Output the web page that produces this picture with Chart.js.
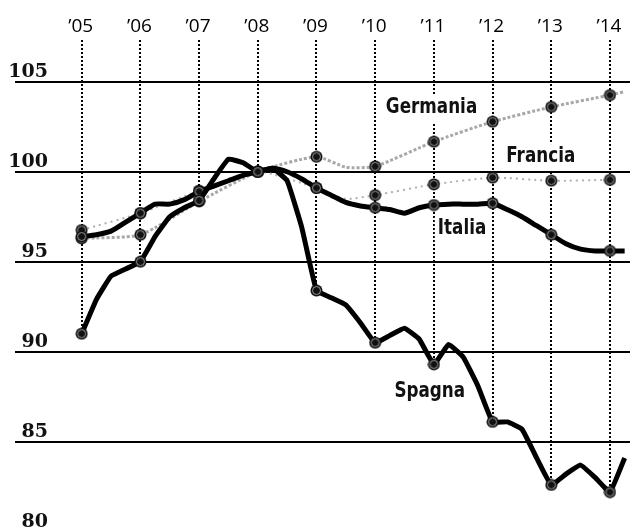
<!DOCTYPE html>
<html>
<head>
<meta charset="utf-8">
<script src="https://cdn.jsdelivr.net/npm/chart.js@4.4.1/dist/chart.umd.min.js"></script>
<style>
  html, body { margin: 0; padding: 0; background: #fff; overflow: hidden; }
  canvas { display: block; }
</style>
</head>
<body>
<canvas id="grafico" width="630" height="529" style="width:630px;height:529px"></canvas>
<script>
// anni con la linea tratteggiata verticale
const anni = [2005, 2006, 2007, 2008, 2009, 2010, 2011, 2012, 2013, 2014];
const anniLabel = ["\u201905", "\u201906", "\u201907", "\u201908", "\u201909", "\u201910", "\u201911", "\u201912", "\u201913", "\u201914"];
// trimestri dal 2005 al 2014 (II trim.)
const trimestri = Array.from({ length: 38 }, (_, i) => 2005 + i / 4);

const spagna = [
  91.0, 92.9, 94.2, 94.6,
  95.0, 96.4, 97.5, 98.0,
  98.4, 99.6, 100.7, 100.5,
  100.0, 100.2, 99.5, 96.9,
  93.4, 93.0, 92.6, 91.6,
  90.5, 90.9, 91.3, 90.7,
  89.3, 90.4, 89.7, 88.1,
  86.1, 86.1, 85.7, 84.1,
  82.6, 83.2, 83.7, 83.0,
  82.2, 84.1,
];
const italia = [
  96.4, 96.5, 96.7, 97.2,
  97.7, 98.2, 98.2, 98.45,
  98.9, 99.2, 99.5, 99.8,
  100.0, 100.2, 100.0, 99.6,
  99.1, 98.7, 98.3, 98.1,
  98.0, 97.9, 97.7, 98.0,
  98.15, 98.2, 98.2, 98.2,
  98.25, 97.9, 97.5, 97.0,
  96.5, 96.0, 95.7, 95.6,
  95.6, 95.6,
];
const germaniaX = [2005, 2006, 2007, 2008, 2009, 2009.5, 2010, 2011, 2012, 2013, 2014, 2014.25];
const germania = [96.3, 96.5, 98.35, 100, 100.83, 100.25, 100.3, 101.67, 102.78, 103.6, 104.26, 104.45];
const franciaX = [2005, 2006, 2007, 2008, 2009, 2009.5, 2010, 2011, 2012, 2013, 2014];
const francia = [96.76, 97.7, 98.95, 100, 99.1, 98.5, 98.7, 99.3, 99.67, 99.5, 99.55];

const yTicks = [80, 85, 90, 95, 100, 105];
const gridTicks = [85, 90, 95, 100, 105];

// etichette dei paesi (coordinate in unità del grafico)
const etichette = [
  { testo: "Germania", x: 2010.96, y: 103.54 },
  { testo: "Francia", x: 2012.82, y: 100.87 },
  { testo: "Italia", x: 2011.48, y: 96.82 },
  { testo: "Spagna", x: 2010.93, y: 87.76 },
];

function pts(xs, ys) { return ys.map((v, i) => ({ x: xs[i], y: v })); }

function makeDot() {
  const c = document.createElement("canvas");
  c.width = 13; c.height = 13;
  const g = c.getContext("2d");
  g.fillStyle = "#111";
  g.beginPath(); g.arc(6.5, 6.5, 6, 0, Math.PI * 2); g.fill();
  g.strokeStyle = "#9a9a9a"; g.lineWidth = 1;
  g.beginPath(); g.arc(6.5, 6.5, 4, 0, Math.PI * 2); g.stroke();
  return c;
}
const dot = makeDot();
const pointAt = (ctx) => (ctx.raw && Number.isInteger(ctx.raw.x) ? 5 : 0);

const decor = {
  id: "decor",
  beforeDatasetsDraw(chart) {
    const { ctx, chartArea, scales: { x, y } } = chart;
    ctx.save();
    // linee verticali tratteggiate fino al valore più basso dell'anno
    ctx.strokeStyle = "#000"; ctx.lineWidth = 2; ctx.setLineDash([2, 2]);
    anni.forEach((a) => {
      const vals = [];
      chart.data.datasets.forEach((ds) => ds.data.forEach((p) => { if (p.x === a) vals.push(p.y); }));
      const px = Math.round(x.getPixelForValue(a));
      ctx.beginPath();
      ctx.moveTo(px, chartArea.top);
      ctx.lineTo(px, y.getPixelForValue(Math.min(...vals)));
      ctx.stroke();
    });
    ctx.setLineDash([]);
    // anni in alto
    ctx.fillStyle = "#000";
    ctx.font = '19px "Open Sans", sans-serif';
    ctx.textAlign = "center"; ctx.textBaseline = "alphabetic";
    anni.forEach((a, i) => ctx.fillText(anniLabel[i], x.getPixelForValue(a) - 1, 32));
    // etichette valori asse y
    ctx.fillStyle = "#111";
    ctx.font = 'bold 19px "DejaVu Serif", serif';
    ctx.textAlign = "right";
    yTicks.forEach((v) => ctx.fillText(String(v), 48, Math.round(y.getPixelForValue(v)) - 5));
    // nomi dei paesi su fondo bianco (carattere condensato)
    ctx.font = 'bold 21px "DejaVu Sans", sans-serif';
    ctx.textAlign = "center"; ctx.textBaseline = "middle";
    const sx = 0.8;
    etichette.forEach((e) => {
      const cx = x.getPixelForValue(e.x), cy = y.getPixelForValue(e.y);
      const w = ctx.measureText(e.testo).width * sx;
      ctx.fillStyle = "#fff";
      ctx.fillRect(cx - w / 2 - 3, cy - 12, w + 6, 26);
      ctx.save();
      ctx.translate(cx, cy); ctx.scale(sx, 1);
      ctx.fillStyle = "#111";
      ctx.fillText(e.testo, 0, 0);
      ctx.restore();
    });
    ctx.restore();
  },
};

new Chart(document.getElementById("grafico"), {
  type: "line",
  data: {
    datasets: [
      { label: "Spagna", data: pts(trimestri, spagna), borderColor: "#000", borderWidth: 5, borderJoinStyle: "round", tension: 0.1 },
      { label: "Italia", data: pts(trimestri, italia), borderColor: "#000", borderWidth: 5, borderJoinStyle: "round", tension: 0.2 },
      { label: "Francia", data: pts(franciaX, francia), borderColor: "#b0b0b0", borderWidth: 2, borderDash: [2, 4], tension: 0.2 },
      { label: "Germania", data: pts(germaniaX, germania), borderColor: "#a8a8a8", borderWidth: 3, borderDash: [3, 2], tension: 0.2 },
    ],
  },
  options: {
    responsive: false,
    animation: false,
    events: [],
    layout: { autoPadding: false, padding: { top: 40, left: 15, right: 0, bottom: 0 } },
    elements: {
      point: { radius: pointAt, pointStyle: () => dot, borderWidth: 0 },
    },
    plugins: { legend: { display: false }, tooltip: { enabled: false } },
    scales: {
      x: { type: "linear", display: false, min: 2003.864, max: 2014.341 },
      y: {
        min: 80.15, max: 107.32,
        afterBuildTicks: (s) => { s.ticks = gridTicks.map((v) => ({ value: v })); },
        ticks: { display: false },
        grid: { color: "#000", lineWidth: 2, drawTicks: false },
        border: { display: false },
      },
    },
  },
  plugins: [decor],
});
</script>
</body>
</html>
